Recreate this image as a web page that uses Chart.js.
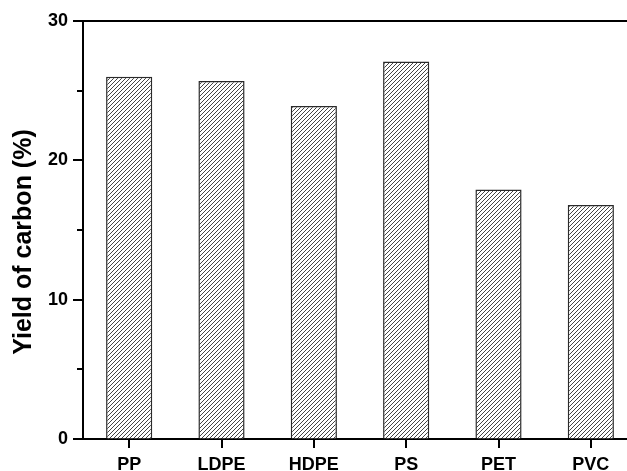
<!DOCTYPE html>
<html>
<head>
<meta charset="utf-8">
<script src="https://cdn.jsdelivr.net/npm/chart.js@4"></script>
<style>
  html, body { margin: 0; padding: 0; background: #fff; overflow: hidden; width: 627px; height: 471px; }
  #wrap { width: 640px; height: 471px; }
</style>
</head>
<body>
<div id="wrap"><canvas id="c" width="640" height="471"></canvas></div>
<script>
// Carbon yield from pyrolysis of each plastic
const categories = ['PP', 'LDPE', 'HDPE', 'PS', 'PET', 'PVC'];
const carbonYield = [26.0, 25.7, 23.9, 27.1, 17.9, 16.8];
const majorTicks = [0, 10, 20, 30];
const minorTicks = [5, 15, 25];
const yTitle = 'Yield of carbon (%)';

const FONT = '"Liberation Sans", Arial, Helvetica, sans-serif';

// diagonal hatch fill for the bars
function hatchPattern(ctx) {
  const tile = document.createElement('canvas');
  tile.width = 4; tile.height = 4;
  const t = tile.getContext('2d');
  t.fillStyle = '#fff';
  t.fillRect(0, 0, 4, 4);
  t.strokeStyle = '#444';
  t.lineWidth = 1;
  t.beginPath();
  t.moveTo(0, 4); t.lineTo(4, 0);
  t.moveTo(-1, 1); t.lineTo(1, -1);
  t.moveTo(3, 5); t.lineTo(5, 3);
  t.stroke();
  return ctx.createPattern(tile, 'repeat');
}

// top frame line, outward tick marks and the rotated y title
const framePlugin = {
  id: 'frame',
  afterDraw(chart) {
    const { ctx, chartArea } = chart;
    const y = chart.scales.y;
    const x = chart.scales.x;
    ctx.save();
    ctx.strokeStyle = '#000';
    ctx.lineWidth = 2;
    ctx.beginPath();
    ctx.moveTo(chartArea.left - 1, y.getPixelForValue(30));
    ctx.lineTo(chart.width, y.getPixelForValue(30));
    // major y ticks
    majorTicks.forEach(v => {
      const py = Math.round(y.getPixelForValue(v));
      ctx.moveTo(chartArea.left - 10, py);
      ctx.lineTo(chartArea.left, py);
    });
    // minor y ticks
    minorTicks.forEach(v => {
      const py = Math.round(y.getPixelForValue(v));
      ctx.moveTo(chartArea.left - 6, py);
      ctx.lineTo(chartArea.left, py);
    });
    // category ticks below the axis
    categories.forEach((c, i) => {
      const px = Math.round(x.getPixelForValue(i));
      ctx.moveTo(px, chartArea.bottom);
      ctx.lineTo(px, chartArea.bottom + 9);
    });
    ctx.stroke();
    ctx.fillStyle = '#000';
    ctx.font = 'bold 25px ' + FONT;
    ctx.textAlign = 'center';
    ctx.textBaseline = 'middle';
    ctx.translate(24, 242);
    ctx.rotate(-Math.PI / 2);
    ctx.fillText(yTitle, 0, 0);
    ctx.restore();
  }
};

const canvas = document.getElementById('c');
const ctx = canvas.getContext('2d');

new Chart(ctx, {
  type: 'bar',
  data: {
    labels: categories,
    datasets: [{
      data: carbonYield,
      backgroundColor: hatchPattern(ctx),
      borderColor: '#2a2a2a',
      borderWidth: 1.5,
      barPercentage: 0.5,
      categoryPercentage: 1.0
    }]
  },
  options: {
    responsive: false,
    devicePixelRatio: 1,
    animation: false,
    layout: { padding: { top: 21, right: 3, left: 0, bottom: 0 } },
    plugins: { legend: { display: false }, tooltip: { enabled: false } },
    scales: {
      x: {
        grid: { offset: false, drawOnChartArea: false, tickLength: 9, tickColor: 'rgba(0,0,0,0)' },
        border: { display: true, width: 2, color: '#000' },
        ticks: { color: '#000', font: { family: FONT, size: 18, weight: 'bold' }, padding: 6, maxRotation: 0 },
        afterFit(scale) { scale.height = 32; }
      },
      y: {
        min: 0,
        max: 30,
        afterBuildTicks(scale) { scale.ticks = majorTicks.map(v => ({ value: v })); },
        grid: { drawOnChartArea: false, tickLength: 9, tickColor: 'rgba(0,0,0,0)' },
        border: { display: true, width: 2, color: '#000' },
        ticks: { color: '#000', font: { family: FONT, size: 18, weight: 'bold' }, padding: 6 },
        afterFit(scale) { scale.width = 83; }
      }
    }
  },
  plugins: [framePlugin]
});
</script>
</body>
</html>
